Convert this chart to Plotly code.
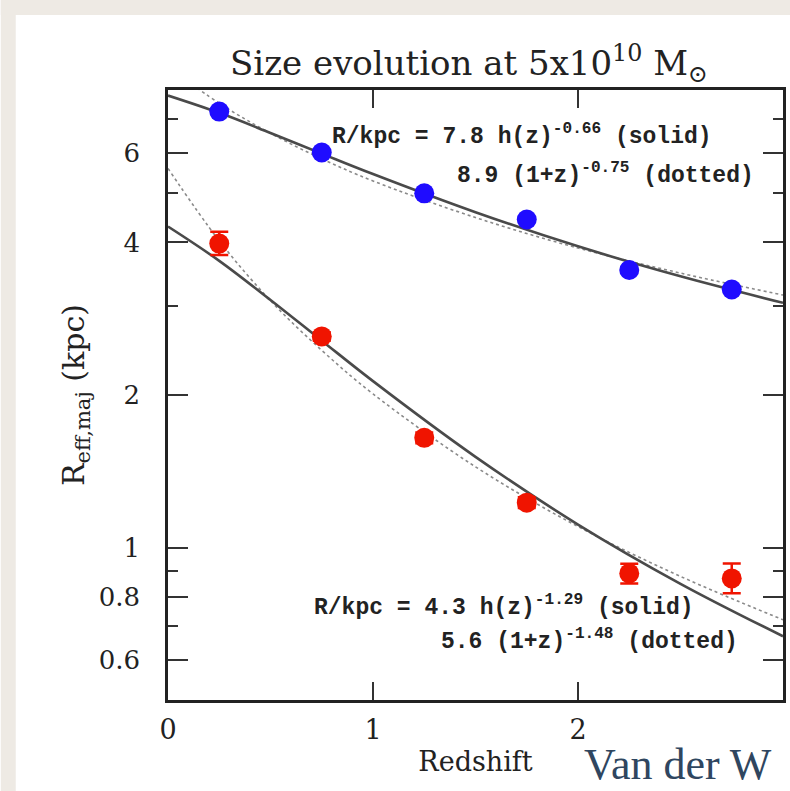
import plotly.graph_objects as go

# ---- data ----
z_bins = [0.25, 0.75, 1.25, 1.75, 2.25, 2.75]
late_R = [7.25, 6.02, 5.00, 4.44, 3.53, 3.23]
early_R = [3.98, 2.61, 1.646, 1.226, 0.889, 0.869]
early_err_plus = [0.22, 0.05, 0.04, 0.03, 0.04, 0.061]
early_err_minus = [0.20, 0.05, 0.04, 0.03, 0.04, 0.057]

z_fit = [0.0, 0.25, 0.5, 0.75, 1.0, 1.5, 2.0, 2.5, 3.0]
late_solid = [7.8, 7.21, 6.58, 5.99, 5.46, 4.59, 3.93, 3.43, 3.04]
late_dotted = [8.9, 7.53, 6.57, 5.85, 5.29, 4.48, 3.90, 3.48, 3.15]
early_solid = [4.3, 3.68, 3.08, 2.56, 2.13, 1.51, 1.11, 0.848, 0.668]
early_dotted = [5.6, 4.03, 3.07, 2.45, 2.01, 1.443, 1.10, 0.877, 0.720]

x_ticks = [0, 1, 2, 3]
y_ticks = [0.6, 0.8, 1, 2, 4, 6]
y_minor = [0.5, 0.7, 0.9, 3, 5, 7]

BLUE = "#1f0cff"
RED = "#f01400"
FONT = "DejaVu Serif"
MONO = "Liberation Mono"

# plot area in pixels
L, R_, T, B = 168, 786, 90, 700
W, H = 790, 791
pw, ph = R_ - L, B - T


def px(xp):
    return (xp - L) / pw


def py(yp):
    return (B - yp) / ph


fig = go.Figure()

fig.add_trace(go.Scatter(x=z_fit, y=late_dotted, mode="lines", line=dict(color="#8a8a8a", width=1.6, dash="dot", shape="spline"), showlegend=False))
fig.add_trace(go.Scatter(x=z_fit, y=early_dotted, mode="lines", line=dict(color="#8a8a8a", width=1.6, dash="dot", shape="spline"), showlegend=False))
fig.add_trace(go.Scatter(x=z_fit, y=late_solid, mode="lines", line=dict(color="#4a4a4a", width=2.6, shape="spline"), showlegend=False))
fig.add_trace(go.Scatter(x=z_fit, y=early_solid, mode="lines", line=dict(color="#4a4a4a", width=2.6, shape="spline"), showlegend=False))

fig.add_trace(go.Scatter(
    x=z_bins, y=early_R, mode="markers",
    marker=dict(color=RED, size=20, line=dict(width=0)),
    error_y=dict(type="data", symmetric=False, array=early_err_plus, arrayminus=early_err_minus,
                 color=RED, thickness=2.5, width=9),
    showlegend=False))
fig.add_trace(go.Scatter(
    x=z_bins, y=late_R, mode="markers",
    marker=dict(color=BLUE, size=20, line=dict(width=0)),
    showlegend=False))

ann_font = dict(family=MONO, size=23, color="#222222")
annotations = [
    dict(x=0.79, y=0.815, xref="x", yref="y", xanchor="left", yanchor="middle",
         text="<b>R/kpc = 7.8 h(z)<sup>-0.66</sup> (solid)</b>", showarrow=False, font=ann_font),
    dict(x=1.40, y=0.738, xref="x", yref="y", xanchor="left", yanchor="middle",
         text="<b>8.9 (1+z)<sup>-0.75</sup> (dotted)</b>", showarrow=False, font=ann_font),
    dict(x=0.70, y=-0.116, xref="x", yref="y", xanchor="left", yanchor="middle",
         text="<b>R/kpc = 4.3 h(z)<sup>-1.29</sup> (solid)</b>", showarrow=False, font=ann_font),
    dict(x=1.32, y=-0.183, xref="x", yref="y", xanchor="left", yanchor="middle",
         text="<b>5.6 (1+z)<sup>-1.48</sup> (dotted)</b>", showarrow=False, font=ann_font),
    dict(x=px(470), y=py(63), xref="paper", yref="paper", xanchor="center", yanchor="middle",
         text="Size evolution at 5x10<sup>10</sup> M<sub>\u2299</sub>", showarrow=False,
         font=dict(family=FONT, size=34, color="#222222")),
    dict(x=px(584), y=py(791), xref="paper", yref="paper", xanchor="left", yanchor="bottom",
         text="Van der W", showarrow=False,
         font=dict(family="Liberation Serif", size=44, color="#2f4660")),
]

beige = "#eeeae4"
shapes = [
    dict(type="rect", xref="paper", yref="paper", x0=px(0), x1=px(15), y0=py(W + 10), y1=py(0),
         fillcolor=beige, line=dict(width=0), layer="below"),
    dict(type="rect", xref="paper", yref="paper", x0=px(0), x1=px(W + 10), y0=py(15), y1=py(0),
         fillcolor=beige, line=dict(width=0), layer="below"),
]

fig.update_layout(
    width=W, height=H,
    margin=dict(l=L, r=W - R_, t=T, b=H - B),
    paper_bgcolor="white", plot_bgcolor="white",
    annotations=annotations, shapes=shapes,
    showlegend=False,
    font=dict(family=FONT, color="#222222"),
)

fig.update_xaxes(
    range=[0, 3], tickvals=x_ticks, ticktext=[str(v) for v in x_ticks],
    ticks="inside", ticklen=18, tickwidth=2, tickcolor="#333",
    showline=True, linecolor="#222", linewidth=2.5, mirror="ticks",
    showgrid=False, zeroline=False,
    tickfont=dict(family=FONT, size=27, color="#222"), ticklabelstandoff=4,
    title=dict(text="Redshift", font=dict(family=FONT, size=27, color="#222"), standoff=8),
)
fig.update_yaxes(
    type="log", range=[-0.301, 0.903], tickvals=y_ticks, ticktext=[str(v) for v in y_ticks],
    ticks="inside", ticklen=20, tickwidth=2, tickcolor="#333",
    minor=dict(tickvals=y_minor, ticks="inside", ticklen=10, tickwidth=2, tickcolor="#333", showgrid=False),
    showline=True, linecolor="#222", linewidth=2.5, mirror="ticks",
    showgrid=False, zeroline=False,
    tickfont=dict(family=FONT, size=26, color="#222"), ticklabelstandoff=20,
    title=dict(text="R<sub>eff,maj</sub> (kpc)", font=dict(family=FONT, size=30, color="#222"), standoff=6),
)

fig.write_html("out.html", config={"displayModeBar": False},
               post_script="document.body.style.margin='0';document.body.style.overflow='hidden';")
